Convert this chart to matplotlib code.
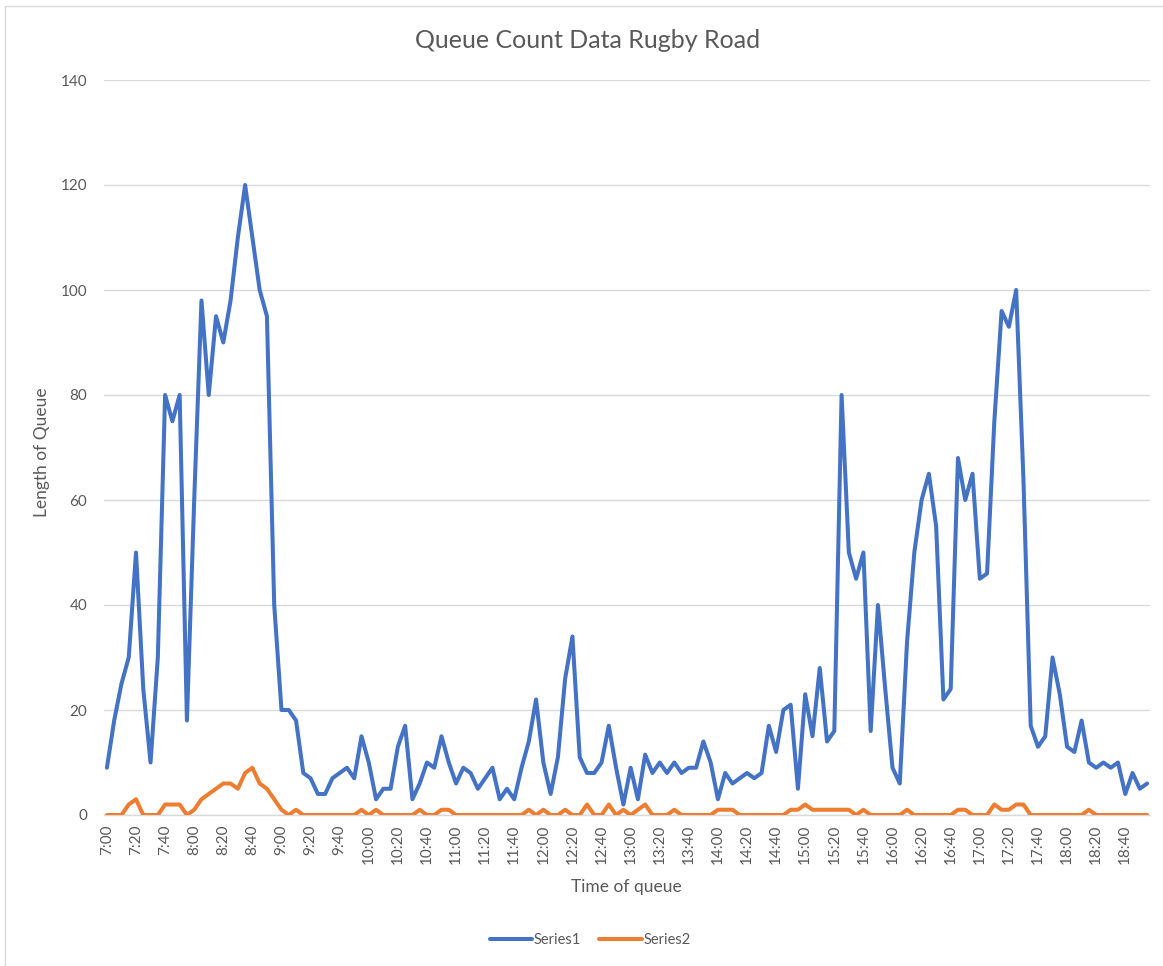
import matplotlib
matplotlib.use('Agg')
import matplotlib.pyplot as plt
from matplotlib.patches import Rectangle

plt.rcParams['font.family'] = ['Lato', 'DejaVu Sans']

# ---- data ----
times = [f"{h}:{m:02d}" for h in range(7, 19) for m in range(0, 60, 5)]  # 7:00 .. 18:55

series1 = [9, 18, 25, 30, 50, 24, 10, 30, 80, 75, 80, 18, 60, 98, 80,
           95, 90, 98, 110, 120, 110, 100, 95, 40, 20, 20, 18, 8, 7,
           4, 4, 7, 8, 9, 7, 15, 10, 3, 5, 5, 13, 17, 3, 6, 10, 9, 15, 10, 6,
           9, 8, 5, 7, 9, 3, 5,
           3, 9, 14, 22, 10, 4, 11, 26, 34, 11, 8, 8, 10, 17, 9, 2, 9, 3, 11.5,
           8, 10, 8, 10, 8, 9, 9, 14, 10, 3, 8, 6, 7, 8,
           7, 8, 17, 12, 20, 21, 5, 23, 15, 28, 14, 16, 80, 50, 45, 50, 16, 40,
           24, 9, 6, 33, 50, 60, 65,
           55, 22, 24, 68, 60, 65, 45, 46, 75, 96, 93, 100, 64, 17, 13, 15, 30,
           23, 13, 12, 18, 10, 9, 10, 9, 10, 4, 8, 5, 6]

series2 = [0, 0, 0, 2, 3, 0, 0, 0, 2, 2, 2, 0, 1, 3, 4, 5, 6, 6, 5, 8, 9, 6,
           5, 3, 1, 0, 1, 0, 0,
           0, 0, 0, 0, 0, 0, 1, 0, 1, 0, 0, 0, 0, 0, 1, 0, 0, 1, 1, 0, 0, 0,
           0, 0, 0, 0, 0,
           0, 0, 1, 0, 1, 0, 0, 1, 0, 0, 2, 0, 0, 2, 0, 1, 0, 1, 2, 0, 0, 0,
           1, 0, 0, 0, 0, 0, 1, 1, 1, 0, 0,
           0, 0, 0, 0, 0, 1, 1, 2, 1, 1, 1, 1, 1, 1, 0, 1, 0, 0, 0, 0, 0, 1,
           0, 0, 0,
           0, 0, 0, 1, 1, 0, 0, 0, 2, 1, 1, 2, 2, 0, 0, 0, 0, 0, 0, 0, 0, 1,
           0, 0, 0, 0, 0, 0, 0, 0]

series_names = ["Series1", "Series2"]
colors = ["#4472C4", "#ED7D31"]
title = "Queue Count Data Rugby Road"
xlabel = "Time of queue"
ylabel = "Length of Queue"

TXT = '#595959'
W, H = 1163, 966

fig = plt.figure(figsize=(W / 100, H / 100), dpi=100)
ax = fig.add_axes([104 / W, 1 - 815 / H, (1150 - 104) / W, (815 - 80) / H])

x = list(range(len(times)))
for vals, name, c in zip([series1, series2], series_names, colors):
    ax.plot(x, vals, color=c, lw=2.9, label=name, zorder=3,
            solid_joinstyle='round', solid_capstyle='round')

ax.set_xlim(-0.4, len(times) - 1 + 0.4)
ax.set_ylim(0, 140)
ax.set_yticks(range(0, 141, 20))
ax.yaxis.grid(True, color='#d9d9d9', lw=1)
ax.axhline(0, color='#d9d9d9', lw=1, zorder=1, clip_on=False)
ax.set_axisbelow(True)
for s in ax.spines.values():
    s.set_visible(False)

ax.set_xticks(x[::4])
ax.set_xticklabels(times[::4], rotation=90)
ax.tick_params(length=0, colors=TXT, labelsize=11)
ax.tick_params(axis='y', pad=12)
ax.tick_params(axis='x', pad=7)

fig.text(588 / W, 1 - 40 / H, title, ha='center', va='center',
         fontsize=18, color=TXT)
fig.text(42 / W, 1 - 452 / H, ylabel, ha='center', va='center',
         rotation=90, fontsize=12.5, color=TXT)
fig.text(626 / W, 1 - 887 / H, xlabel, ha='center', va='center',
         fontsize=12.5, color=TXT)

leg = fig.legend(loc='center', bbox_to_anchor=(590 / W, 1 - 940 / H), ncol=2,
                 frameon=False, fontsize=10.5, handlelength=2.9,
                 handletextpad=0.1, columnspacing=1.3)
for t in leg.get_texts():
    t.set_color(TXT)

fig.patches.append(Rectangle((4.5 / W, -0.01), 1.02, (H - 6.5) / H + 0.01,
                             transform=fig.transFigure, fill=False,
                             ec='#d9d9d9', lw=1))

fig.savefig('out.png', dpi=100)
